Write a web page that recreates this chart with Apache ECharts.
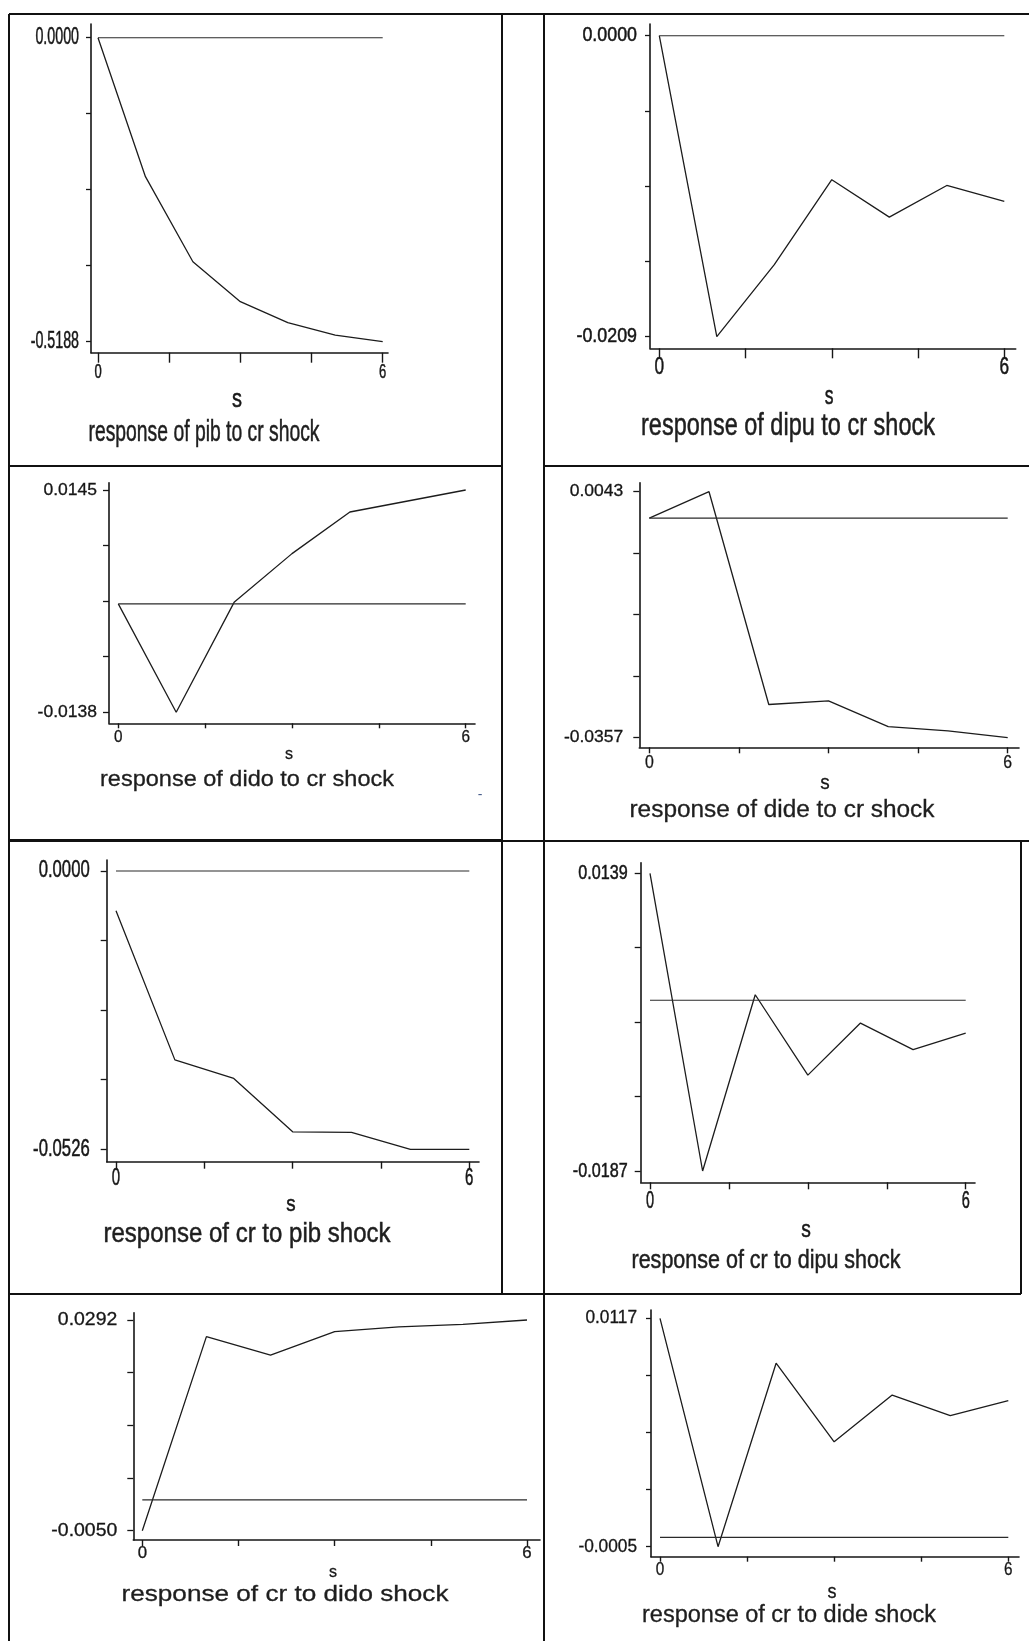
<!DOCTYPE html>
<html>
<head>
<meta charset="utf-8">
<title>Impulse responses</title>
<script src="https://cdn.jsdelivr.net/npm/echarts@6/dist/echarts.min.js"></script>
<style>
  html, body { margin: 0; padding: 0; background: #fff; }
  #chart { width: 1029px; height: 1641px; }
</style>
</head>
<body>
<div id="chart"></div>
<script>
// Horizons of the impulse responses and the x-axis tick positions
const horizons = [0, 1, 2, 3, 4, 5, 6];
const xTickValues = [0, 1.5, 3, 4.5, 6];
const xLabelValues = [0, 6];

// Responses to a cr shock
const pibToCr  = [0.0000, -0.2372, -0.3823, -0.4505, -0.4864, -0.5074, -0.5188];
const dipuToCr = [0.0000, -0.0209, -0.0159, -0.0100, -0.0126, -0.0104, -0.0115];
const didoToCr = [0.0000, -0.0138, 0.0002, 0.0064, 0.0117, 0.0131, 0.0145];
const dideToCr = [0.0000, 0.0043, -0.0303, -0.0297, -0.0339, -0.0346, -0.0357];

// Responses of cr to the other shocks
const crToPib  = [-0.0075, -0.0357, -0.0392, -0.0493, -0.0494, -0.0526, -0.0526];
const crToDipu = [0.0139, -0.0187, 0.0006, -0.0082, -0.0025, -0.0054, -0.0036];
const crToDido = [-0.0050, 0.0265, 0.0235, 0.0273, 0.0281, 0.0285, 0.0292];
const crToDide = [0.0117, -0.0005, 0.0093, 0.0051, 0.0076, 0.0065, 0.0073];

// Labelled ends of each y axis [low, high]
const pibToCrRange  = [-0.5188, 0.0000];
const dipuToCrRange = [-0.0209, 0.0000];
const didoToCrRange = [-0.0138, 0.0145];
const dideToCrRange = [-0.0357, 0.0043];
const crToPibRange  = [-0.0526, 0.0000];
const crToDipuRange = [-0.0187, 0.0139];
const crToDidoRange = [-0.0050, 0.0292];
const crToDideRange = [-0.0005, 0.0117];

const FAMILY = '"Liberation Sans", Arial, sans-serif';
const INK = '#161616';

// Panel layout: box = [axisLeft, axisTop, axisRight, axisBottom] in px,
// xPx = px of horizon 0 and 6, yPx = px of range high and low.
// yl = [fontSize, scaleX, gap to axis], xl = [fontSize, scaleX, centre y],
// s = [x, y, fontSize, scaleX], head = [centre x, centre y, width, fontSize], ink = stroke weight
const panels = [
  { title: 'response of pib to cr shock', values: pibToCr, range: pibToCrRange,
    box: [91, 24, 388, 352.7], xPx: [98, 382.7], yPx: [37.7, 341.7], xTick: 10, yTick: 5,
    yl: [23, 0.62, 12], xl: [21, 0.62, 372.5], s: [237, 400, 25, 0.8], head: [204, 432.5, 231, 29.5], ink: 0.5 },
  { title: 'response of dipu to cr shock', values: dipuToCr, range: dipuToCrRange,
    box: [650, 24, 1015.7, 348.3], xPx: [659.3, 1004.3], yPx: [35.7, 336.7], xTick: 10, yTick: 5,
    yl: [21, 0.85, 13], xl: [23, 0.75, 368], s: [829, 397, 25, 0.7], head: [788, 426.5, 294, 31], ink: 0.5 },
  { title: 'response of dido to cr shock', values: didoToCr, range: didoToCrRange,
    box: [109, 482.7, 475, 723.3], xPx: [118.3, 465.7], yPx: [490, 712.3], xTick: 5, yTick: 6,
    yl: [17, 1.03, 12], xl: [17, 0.9, 737.5], s: [289, 755, 16, 1], head: [247, 780, 294, 21.3], ink: 0.3 },
  { title: 'response of dide to cr shock', values: dideToCr, range: dideToCrRange,
    box: [639.3, 482.7, 1019, 747.3], xPx: [649.3, 1007.7], yPx: [491.7, 737.7], xTick: 6, yTick: 6,
    yl: [17, 1.03, 16], xl: [18, 0.88, 763.3], s: [825, 783, 21, 0.9], head: [782, 810.8, 305, 23], ink: 0.3 },
  { title: 'response of cr to pib shock', values: crToPib, range: crToPibRange,
    box: [106.7, 860, 479, 1161.7], xPx: [116, 469.3], yPx: [871, 1149.3], xTick: 7, yTick: 6,
    yl: [23.5, 0.71, 17], xl: [23.5, 0.64, 1178.3], s: [291, 1205, 22, 0.85], head: [247, 1234, 287, 28.4], ink: 0.5 },
  { title: 'response of cr to dipu shock', values: crToDipu, range: crToDipuRange,
    box: [640.7, 862.7, 975, 1182.3], xPx: [650, 965.7], yPx: [873.3, 1171], xTick: 7, yTick: 6,
    yl: [21, 0.77, 13], xl: [23.5, 0.62, 1201.7], s: [806, 1230, 24, 0.8], head: [766, 1261, 269, 26], ink: 0.5 },
  { title: 'response of cr to dido shock', values: crToDido, range: crToDidoRange,
    box: [133.3, 1312.7, 540, 1540], xPx: [142.3, 527], yPx: [1320, 1530.7], xTick: 6, yTick: 6,
    yl: [18, 1.08, 16], xl: [16, 1.05, 1553.8], s: [333, 1573, 16, 1], head: [285, 1595, 327, 21.3], ink: 0.3 },
  { title: 'response of cr to dide shock', values: crToDide, range: crToDideRange,
    box: [651, 1310, 1019, 1556.7], xPx: [660, 1008.3], yPx: [1318.3, 1546.7], xTick: 5, yTick: 5,
    yl: [18, 0.96, 14], xl: [18, 0.85, 1570], s: [832, 1592, 20, 0.9], head: [789, 1615.8, 294, 23], ink: 0.3 }
];

// Table rules around the panels: [x1, y1, x2, y2, width]
const rules = [
  [9, 14, 1029, 14, 2],
  [9, 466, 502, 466, 2], [544, 466, 1029, 466, 2],
  [9, 840.5, 502, 840.5, 3], [502, 841, 1029, 841, 2],
  [9, 1294, 1021, 1294, 2],
  [9, 14, 9, 1641, 2],
  [502, 14, 502, 1294, 2],
  [544, 14, 544, 1641, 2],
  [1021, 841, 1021, 1294, 2]
];

const measureCtx = document.createElement('canvas').getContext('2d');
function textWidth(text, font) {
  measureCtx.font = font;
  return measureCtx.measureText(text).width;
}

function label(text, x, y, size, scaleX, align, ink, fill) {
  return {
    type: 'text', x, y, scaleX, silent: true, z: 10,
    style: {
      text, font: size + 'px ' + FAMILY, fill: fill || INK,
      stroke: ink > 0 ? (fill || INK) : null, lineWidth: ink,
      textAlign: align, textVerticalAlign: 'middle', align, verticalAlign: 'middle'
    }
  };
}

const grids = [], xAxes = [], yAxes = [], series = [];

panels.forEach((p, i) => {
  const [left, top, right, bottom] = p.box;
  grids.push({ left, top, width: right - left, height: bottom - top, show: false, outerBoundsMode: 'none', containLabel: false });

  // Axis extents chosen so horizons 0..6 and the labelled range land on the panel's plotting box
  const pxPerStep = (p.xPx[1] - p.xPx[0]) / 6;
  const xMin = 0 - (p.xPx[0] - left) / pxPerStep;
  const xMax = 6 + (right - p.xPx[1]) / pxPerStep;
  const [lo, hi] = p.range;
  const pxPerUnit = (p.yPx[1] - p.yPx[0]) / (hi - lo);
  const yMax = hi + (p.yPx[0] - top) / pxPerUnit;
  const yMin = lo - (bottom - p.yPx[1]) / pxPerUnit;
  const yTicks = [0, 1, 2, 3, 4].map(k => lo + k * (hi - lo) / 4);

  xAxes.push({
    gridIndex: i, type: 'value', min: xMin, max: xMax,
    axisLine: { show: true, onZero: false, lineStyle: { color: INK, width: 1.6 } },
    axisTick: { show: true, length: p.xTick, customValues: xTickValues, lineStyle: { color: INK, width: 1.4 } },
    axisLabel: { show: false },
    splitLine: { show: false }
  });
  yAxes.push({
    gridIndex: i, type: 'value', min: yMin, max: yMax,
    axisLine: { show: true, onZero: false, lineStyle: { color: INK, width: 1.6 } },
    axisTick: { show: true, length: p.yTick, customValues: yTicks, lineStyle: { color: INK, width: 1.3 } },
    axisLabel: { show: false },
    splitLine: { show: false }
  });

  series.push({
    type: 'line', xAxisIndex: i, yAxisIndex: i, symbol: 'none', silent: true,
    data: horizons.map((h, k) => [h, p.values[k]]),
    lineStyle: { color: '#1c1c1c', width: 1.3 }
  });
  series.push({
    type: 'line', xAxisIndex: i, yAxisIndex: i, symbol: 'none', silent: true,
    data: [[horizons[0], 0], [horizons[horizons.length - 1], 0]],
    lineStyle: { color: '#2a2a2a', width: 1.1 }
  });
});

const chart = echarts.init(document.getElementById('chart'), null, { renderer: 'canvas' });
chart.setOption({
  animation: false,
  backgroundColor: '#ffffff',
  grid: grids,
  xAxis: xAxes,
  yAxis: yAxes,
  series
});

// Tick labels, axis names and captions, placed through each panel's axis scales
const graphics = [];
panels.forEach((p, i) => {
  const [lo, hi] = p.range;
  const axisLeft = p.box[0];
  [lo, hi].forEach(v => {
    const py = chart.convertToPixel({ gridIndex: i }, [0, v])[1];
    graphics.push(label(v.toFixed(4), axisLeft - p.yl[2], py, p.yl[0], p.yl[1], 'right', p.ink));
  });
  xLabelValues.forEach(v => {
    const px = chart.convertToPixel({ gridIndex: i }, [v, 0])[0];
    graphics.push(label(String(v), px, p.xl[2], p.xl[0], p.xl[1], 'center', p.ink));
  });
  graphics.push(label('s', p.s[0], p.s[1], p.s[2], p.s[3], 'center', p.ink));

  const [cx, cy, w, size] = p.head;
  const sx = w / textWidth(p.title, size + 'px ' + FAMILY);
  graphics.push(label(p.title, cx, cy, size, sx, 'center', p.ink, '#1e1e1e'));
});

rules.forEach(r => {
  graphics.push({
    type: 'line', silent: true,
    shape: { x1: r[0], y1: r[1], x2: r[2], y2: r[3] },
    style: { stroke: '#111', lineWidth: r[4] }
  });
});

// Stray dash printed beside the dido panel caption
graphics.push(label('-', 480, 795, 14, 1, 'center', 0, '#4a5f8c'));

chart.setOption({ graphic: { elements: graphics } });
</script>
</body>
</html>
